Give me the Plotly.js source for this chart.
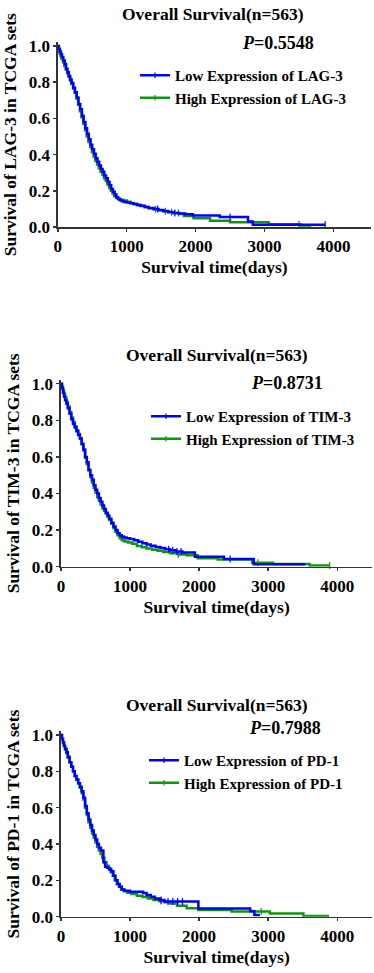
<!DOCTYPE html>
<html>
<head>
<meta charset="utf-8">
<script src="https://cdn.plot.ly/plotly-3.0.1.min.js"></script>
<style>html,body{margin:0;padding:0;background:#fff;}#chart{width:374px;height:973px;}</style>
</head>
<body>
<div id="chart"></div>
<script>
// ---------- data ----------
var genes = ["LAG-3", "TIM-3", "PD-1"];
var pValues = ["0.5548", "0.8731", "0.7988"];
var xTickVals = [0, 1000, 2000, 3000, 4000];
var yTickVals = [0, 0.2, 0.4, 0.6, 0.8, 1.0];

// LAG-3
var lagLowT = [0, 15, 30, 45, 60, 80, 100, 120, 140, 160, 180, 200, 225, 250, 275, 300, 325, 350, 375, 400, 425, 450, 475, 500, 525, 550, 575, 600, 625, 650, 675, 700, 725, 750, 775, 800, 825, 850, 875, 900, 930, 960, 1000, 1050, 1100, 1150, 1200, 1260, 1320, 1390, 1460, 1530, 1600, 1680, 1760, 1850, 1960, 2350, 2760, 2830, 3880];
var lagLowS = [1.0, 0.985, 0.97, 0.955, 0.94, 0.92, 0.9, 0.875, 0.855, 0.835, 0.815, 0.795, 0.77, 0.745, 0.715, 0.68, 0.65, 0.615, 0.58, 0.545, 0.515, 0.485, 0.455, 0.43, 0.405, 0.38, 0.36, 0.34, 0.32, 0.305, 0.285, 0.27, 0.25, 0.23, 0.21, 0.195, 0.18, 0.165, 0.155, 0.148, 0.142, 0.138, 0.135, 0.131, 0.127, 0.122, 0.117, 0.111, 0.105, 0.099, 0.094, 0.088, 0.083, 0.078, 0.075, 0.071, 0.063, 0.055, 0.03, 0.013, 0.013];
var lagHighT = [0, 10, 25, 40, 55, 75, 95, 115, 135, 155, 175, 195, 220, 245, 270, 295, 320, 345, 370, 395, 420, 445, 470, 495, 520, 545, 570, 595, 620, 645, 670, 695, 720, 745, 770, 795, 820, 850, 880, 910, 950, 1000, 1050, 1100, 1150, 1200, 1260, 1320, 1390, 1460, 1530, 1600, 1680, 1760, 1830, 1970, 2210, 2500, 3060, 3520, 3680];
var lagHighS = [1.0, 0.975, 0.96, 0.945, 0.93, 0.91, 0.89, 0.87, 0.85, 0.83, 0.81, 0.79, 0.765, 0.74, 0.71, 0.675, 0.64, 0.605, 0.57, 0.535, 0.5, 0.47, 0.44, 0.415, 0.39, 0.365, 0.345, 0.325, 0.305, 0.29, 0.27, 0.255, 0.235, 0.215, 0.2, 0.185, 0.17, 0.16, 0.155, 0.15, 0.147, 0.14, 0.133, 0.127, 0.121, 0.116, 0.11, 0.104, 0.098, 0.093, 0.087, 0.082, 0.077, 0.072, 0.061, 0.048, 0.035, 0.026, 0.015, 0.008, 0.008];
var lagLowCens = [1450, 1700, 2500, 3880];
var lagHighCens = [1420, 1560, 1650, 1750, 3500];

// TIM-3
var timLowT = [0, 15, 30, 45, 60, 80, 100, 125, 150, 175, 200, 225, 250, 275, 300, 325, 350, 375, 400, 425, 450, 475, 500, 525, 550, 575, 600, 625, 650, 675, 700, 730, 760, 790, 820, 850, 880, 910, 950, 1000, 1060, 1120, 1180, 1240, 1300, 1370, 1440, 1510, 1580, 1660, 1760, 1940, 2360, 2790, 3540];
var timLowS = [1.0, 0.975, 0.95, 0.93, 0.91, 0.89, 0.865, 0.835, 0.805, 0.78, 0.76, 0.74, 0.72, 0.70, 0.67, 0.64, 0.60, 0.57, 0.53, 0.50, 0.475, 0.445, 0.42, 0.40, 0.375, 0.355, 0.335, 0.315, 0.295, 0.28, 0.262, 0.24, 0.22, 0.2, 0.183, 0.172, 0.165, 0.16, 0.155, 0.152, 0.145, 0.136, 0.128, 0.121, 0.114, 0.108, 0.102, 0.096, 0.09, 0.083, 0.077, 0.055, 0.042, 0.013, 0.013];
var timHighT = [0, 15, 30, 45, 60, 80, 100, 125, 150, 175, 200, 225, 250, 275, 300, 325, 350, 375, 400, 425, 450, 475, 500, 525, 550, 575, 600, 625, 650, 675, 700, 730, 760, 790, 820, 850, 880, 920, 970, 1030, 1100, 1170, 1240, 1320, 1400, 1480, 1580, 1700, 1820, 1980, 2270, 2770, 3070, 3600, 3890];
var timHighS = [1.0, 0.985, 0.965, 0.945, 0.925, 0.9, 0.875, 0.845, 0.815, 0.79, 0.768, 0.745, 0.725, 0.70, 0.67, 0.635, 0.595, 0.56, 0.525, 0.49, 0.46, 0.43, 0.405, 0.38, 0.36, 0.34, 0.32, 0.305, 0.29, 0.272, 0.255, 0.235, 0.212, 0.19, 0.172, 0.155, 0.145, 0.138, 0.132, 0.125, 0.113, 0.106, 0.1, 0.093, 0.087, 0.08, 0.073, 0.067, 0.062, 0.046, 0.04, 0.022, 0.015, 0.006, 0.006];
var timLowCens = [1560, 1620, 1680, 1740, 2450];
var timHighCens = [1700, 2850, 3890];

// PD-1
var pdLowT = [0, 15, 30, 45, 60, 80, 100, 125, 150, 175, 200, 225, 250, 275, 300, 325, 350, 375, 400, 425, 450, 475, 500, 525, 550, 580, 615, 640, 670, 700, 730, 760, 790, 820, 850, 880, 920, 1000, 1100, 1190, 1240, 1300, 1360, 1430, 1500, 1990, 2740, 2800, 2880];
var pdLowS = [1.0, 0.98, 0.96, 0.94, 0.925, 0.905, 0.88, 0.85, 0.826, 0.8, 0.775, 0.755, 0.735, 0.715, 0.69, 0.655, 0.61, 0.57, 0.535, 0.505, 0.475, 0.45, 0.425, 0.4, 0.38, 0.365, 0.3, 0.275, 0.27, 0.26, 0.25, 0.225, 0.2, 0.18, 0.165, 0.15, 0.143, 0.138, 0.138, 0.13, 0.12, 0.11, 0.1, 0.092, 0.083, 0.045, 0.03, 0.01, 0.01];
var pdHighT = [0, 15, 30, 45, 60, 80, 100, 125, 150, 175, 200, 225, 250, 275, 300, 325, 350, 375, 400, 425, 450, 475, 500, 525, 550, 575, 600, 630, 660, 690, 720, 750, 780, 810, 840, 870, 910, 960, 1020, 1100, 1180, 1260, 1340, 1420, 1500, 1580, 1680, 1820, 1990, 2470, 3025, 3510, 3880];
var pdHighS = [1.0, 0.975, 0.955, 0.94, 0.92, 0.9, 0.875, 0.85, 0.825, 0.8, 0.775, 0.755, 0.735, 0.71, 0.68, 0.645, 0.6, 0.56, 0.52, 0.49, 0.46, 0.435, 0.41, 0.385, 0.365, 0.345, 0.325, 0.3, 0.28, 0.265, 0.245, 0.225, 0.2, 0.18, 0.165, 0.15, 0.14, 0.132, 0.125, 0.116, 0.108, 0.1, 0.092, 0.086, 0.08, 0.073, 0.06, 0.046, 0.037, 0.028, 0.018, 0.004, 0.004];
var pdLowCens = [1450, 1550, 1620, 1690, 1760];
var pdHighCens = [1450, 2900];

// ---------- styling ----------
var BLUE = "#0000ff", GREEN = "#0f960f";
var FONT = "Liberation Serif, Times New Roman, serif";

function stepAt(ts, ss, t) {
  var v = ss[0];
  for (var i = 0; i < ts.length; i++) { if (ts[i] <= t) v = ss[i]; }
  return v;
}

var panels = [
  {low: [lagLowT, lagLowS, lagLowCens], high: [lagHighT, lagHighS, lagHighCens]},
  {low: [timLowT, timLowS, timLowCens], high: [timHighT, timHighS, timHighCens]},
  {low: [pdLowT, pdLowS, pdLowCens], high: [pdHighT, pdHighS, pdHighCens]}
];

var H = 973, W = 374;
var geo = [
  {x0: 57.8, x1: 371, xmax: 4545, yb: 227, yt: 42.4, titleX: 213, titleY: 14, pX: 277.5, pY: 43, legX: 135, legY: 59},
  {x0: 60.9, x1: 372.3, xmax: 4507, yb: 566.7, yt: 380, titleX: 216.7, titleY: 355, pX: 287, pY: 383, legX: 146, legY: 400},
  {x0: 60.9, x1: 372.3, xmax: 4507, yb: 916.7, yt: 731.4, titleX: 216.7, titleY: 705, pX: 285, pY: 728, legX: 144, legY: 744}
];

var traces = [];
var layout = {
  width: W, height: H,
  margin: {l: 0, r: 0, t: 0, b: 0},
  paper_bgcolor: "#fff", plot_bgcolor: "#fff",
  font: {family: FONT, size: 17, color: "#000", weight: "bold"},
  showlegend: true,
  annotations: []
};

panels.forEach(function (p, i) {
  var g = geo[i];
  var n = i === 0 ? "" : String(i + 1);
  var xa = "x" + n, ya = "y" + n;
  var legName = i === 0 ? "legend" : "legend" + (i + 1);
  var series = [
    {d: p.high, color: GREEN, name: "High Expression of " + genes[i]},
    {d: p.low, color: BLUE, name: "Low Expression of " + genes[i]}
  ];
  series.forEach(function (s) {
    traces.push({
      x: s.d[0], y: s.d[1], xaxis: xa, yaxis: ya, type: "scatter", mode: "lines",
      line: {color: s.color, width: 2.5, shape: "hv"}, showlegend: false, hoverinfo: "skip", cliponaxis: false
    });
    traces.push({
      x: s.d[2], y: s.d[2].map(function (t) { return stepAt(s.d[0], s.d[1], t); }),
      xaxis: xa, yaxis: ya, type: "scatter", mode: "markers",
      marker: {symbol: "line-ns", size: 5, line: {color: s.color, width: 1.2}}, showlegend: false, hoverinfo: "skip", cliponaxis: false
    });
  });
  // legend entries (Low first, then High)
  [series[1], series[0]].forEach(function (s) {
    traces.push({
      x: [null], y: [null], xaxis: xa, yaxis: ya, type: "scatter", mode: "lines+markers",
      name: s.name, legend: legName,
      line: {color: s.color, width: 2.5},
      marker: {symbol: "line-ns", size: 4, color: s.color, line: {color: s.color, width: 1.2}}
    });
  });

  var axCommon = {
    showline: true, linecolor: "#333", linewidth: 1.5,
    ticks: "outside", ticklen: 3, tickwidth: 1.5, tickcolor: "#333",
    showgrid: false, zeroline: false, fixedrange: true,
    tickfont: {family: FONT, size: 17, color: "#000", weight: "bold"}
  };
  layout["xaxis" + n] = Object.assign({}, axCommon, {
    domain: [g.x0 / W, g.x1 / W], range: [0, g.xmax], anchor: ya,
    tickvals: xTickVals, ticktext: xTickVals.map(String),
    title: {text: "Survival time(days)", font: {family: FONT, size: 17.5, color: "#000", weight: "bold"}, standoff: 6}
  });
  layout["yaxis" + n] = Object.assign({}, axCommon, {
    domain: [1 - g.yb / H, 1 - g.yt / H], range: [0, 1.02], anchor: xa,
    tickvals: yTickVals, tickformat: ".1f",
    title: {text: "Survival of " + genes[i] + " in TCGA sets", font: {family: FONT, size: 17.5, color: "#000", weight: "bold"}, standoff: 7}
  });
  layout[legName] = {
    x: g.legX / W, y: 1 - g.legY / H, xanchor: "left", yanchor: "top",
    bgcolor: "rgba(0,0,0,0)", borderwidth: 0,
    font: {family: FONT, size: 15, color: "#000", weight: "bold"},
    tracegroupgap: 0
  };
  layout.annotations.push({
    xref: "paper", yref: "paper", x: g.titleX / W, y: 1 - g.titleY / H,
    xanchor: "center", yanchor: "middle", showarrow: false,
    text: "Overall Survival(n=563)",
    font: {family: FONT, size: 17.5, color: "#000", weight: "bold"}
  });
  layout.annotations.push({
    xref: "paper", yref: "paper", x: g.pX / W, y: 1 - g.pY / H,
    xanchor: "center", yanchor: "middle", showarrow: false,
    text: "<i>P</i>=" + pValues[i],
    font: {family: FONT, size: 18, color: "#000", weight: "bold"}
  });
});

Plotly.newPlot("chart", traces, layout, {staticPlot: true, displayModeBar: false});
</script>
</body>
</html>
